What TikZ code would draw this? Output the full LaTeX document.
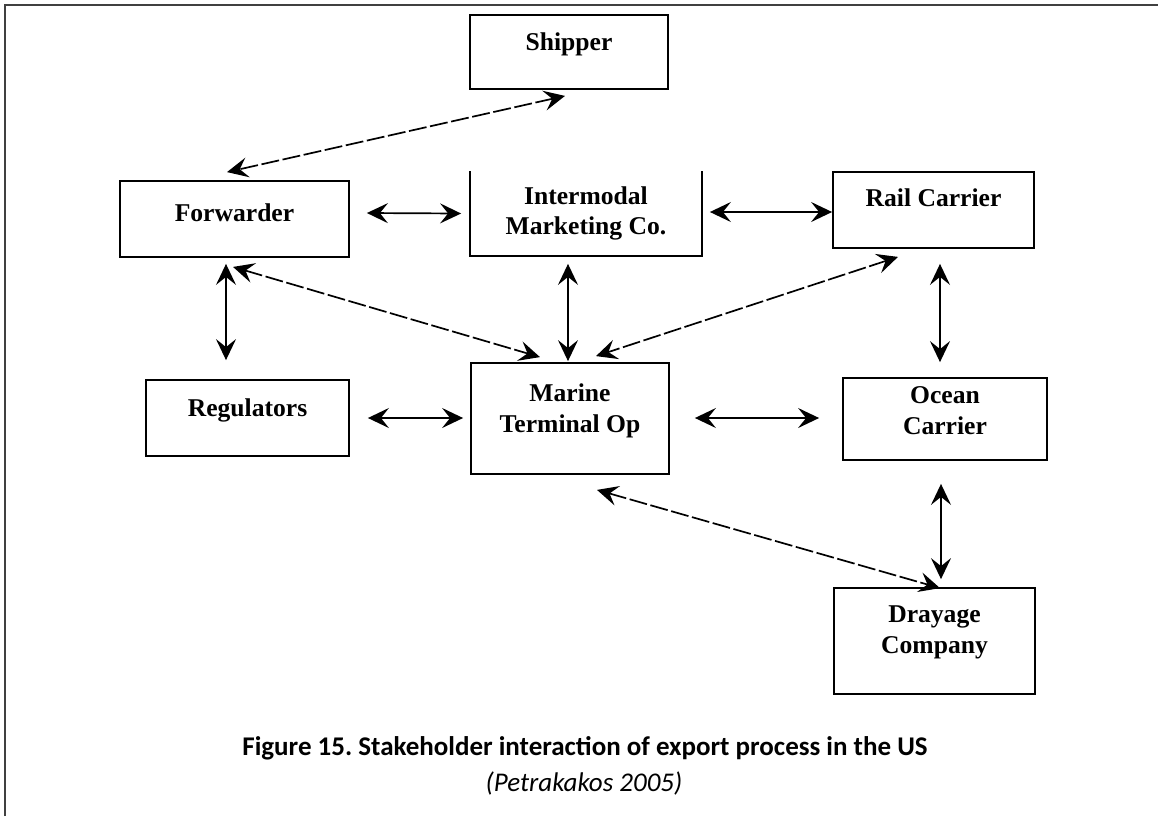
\documentclass[tikz,border=0pt]{standalone}
\usepackage{fontspec}
\setmainfont{Liberation Serif}
\newfontfamily\capfont{Carlito}
\usetikzlibrary{arrows.meta}
\usetikzlibrary{calc}

\tikzset{
  box/.style 2 args={draw, line width=0.9pt, minimum width=#1, minimum height=#2, inner sep=0pt},
  txt/.style={font=\fontsize{12.8}{15.4}\selectfont\bfseries, align=center},
  link/.style={{Stealth[length=10.5pt,width=10pt,inset=4pt]}-{Stealth[length=10.5pt,width=10pt,inset=4pt]}, line width=0.85pt},
  dashlink/.style={link, dash pattern=on 9pt off 1.8pt},
}

\begin{document}
\begin{tikzpicture}[x=0.5pt, y=-0.5pt]
		\useasboundingbox (0,0) rectangle (1158,816);
		%
		%frame
		\draw[line width=0.7pt, black!75] (5,816) -- (5,5) -- (1158,5);
		%
		%stakeholders
		\node[box={99pt}{37pt}, label={[txt, yshift=4pt]center:Shipper}] (ship) at (569,52) {};
		\node[box={114.5pt}{38pt}, label={[txt, yshift=3pt]center:Forwarder}] (fwd) at (234.5,219) {};
		\node[box={115pt}{41.5pt}, draw=none, label={[txt]center:Intermodal\\Marketing Co.}] (imc) at (586,213.5) {};
		\draw[line width=0.9pt] (imc.north west) -- (imc.south west) -- (imc.south east) -- (imc.north east);
		\node[box={100.5pt}{38pt}, label={[txt, yshift=6pt]center:Rail Carrier}] (rail) at (933.5,210) {};
		\node[box={101.5pt}{38pt}, label={[txt, yshift=4pt]center:Regulators}] (reg) at (247.5,418) {};
		\node[box={99pt}{55.5pt}, label={[txt, yshift=4pt]center:Marine\\Terminal Op}] (mto) at (570,418.5) {};
		\node[box={102pt}{41pt}, label={[txt, yshift=4pt]center:Ocean\\Carrier}] (ocean) at (945,419) {};
		\node[box={100.5pt}{53pt}, label={[txt, yshift=4.5pt]center:Drayage\\Company}] (dray) at (934.5,641) {};
		%
		%solid links
		\draw[link] ($(fwd.east)+(17,-6)$) -- ($(imc.west)+(-9,0)$);
		\draw[link] ($(imc.east)+(8,-1.5)$) -- ($(rail.west)+(0,2)$);
		\draw[link] ($(fwd.south)+(-8.5,6)$) -- ($(reg.north)+(-21.5,-19)$);
		\draw[link] ($(imc.south)+(-18,8)$) -- ($(mto.north)+(-2,-1)$);
		\draw[link] ($(rail.south)+(6.5,15)$) -- ($(ocean.north)+(-5,-15)$);
		\draw[link] ($(reg.east)+(18,0)$) -- ($(mto.west)+(-7,-0.5)$);
		\draw[link] ($(mto.east)+(25,-0.5)$) -- ($(ocean.west)+(-23,-1)$);
		\draw[link] ($(ocean.south)+(-4,23)$) -- ($(dray.north)+(6.5,-8)$);
		%
		%dashed links
		\draw[dashlink] ($(ship.south)+(-4,6)$) -- ($(fwd.north)+(-7.5,-8)$);
		\draw[dashlink] ($(fwd.south)+(-1.5,9)$) -- ($(mto.north)+(-30,-5)$);
		\draw[dashlink] ($(rail.south)+(-35.5,8)$) -- ($(mto.north)+(26,-6)$);
		\draw[dashlink] ($(mto.south)+(27,15)$) -- ($(dray.north)+(5.5,1)$);
		%
		%caption
		\node[font=\capfont\bfseries\fontsize{13.5}{16}\selectfont] (cap) at (585,748) {Figure 15.\ Stakeholder interaction of export process in the US};
		\node[font=\capfont\itshape\fontsize{13.5}{16}\selectfont] (src) at (584,783) {(Petrakakos 2005)};
	\end{tikzpicture}
\end{document}
